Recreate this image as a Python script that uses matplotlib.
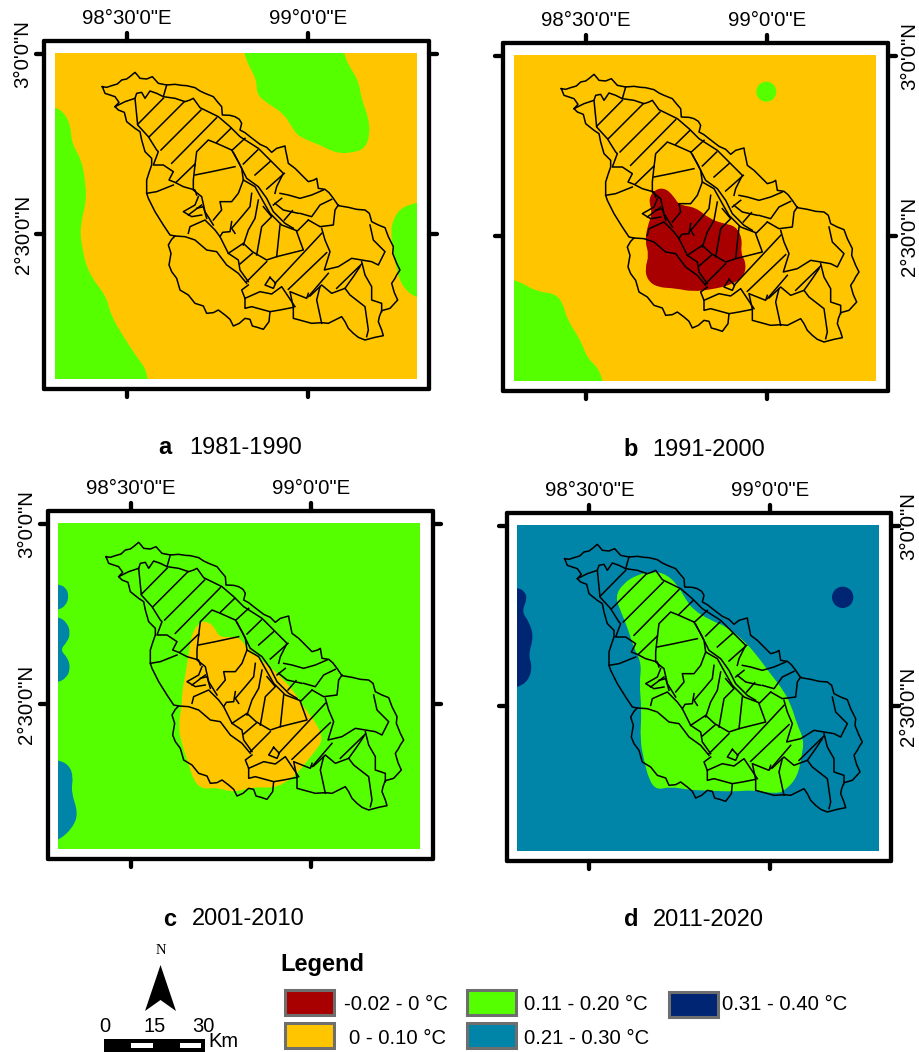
import matplotlib
matplotlib.use("Agg")
import matplotlib.pyplot as plt
from matplotlib.markers import MarkerStyle, TICKLEFT, TICKRIGHT, TICKUP, TICKDOWN
from matplotlib.patches import PathPatch, Polygon, Circle, Rectangle
from matplotlib.path import Path

plt.rcParams["font.family"] = ["Liberation Sans", "DejaVu Sans"]

ORANGE = "#FFC600"
GREEN = "#55FF00"
TEAL = "#0084A8"
NAVY = "#002673"
RED = "#A80000"

# all map shapes are in a local map grid
basin_outer = [(307,260),(320,262),(335,257),(352,252),(365,240),(380,237),(392,228),(405,217),(412,225),(420,235),(440,237),
    (457,230),(466,240),(475,250),(500,255),(525,253),(545,256),(560,257),(585,263),(600,273),(615,280),(640,290),(652,305),
    (665,320),(667,345),(690,346),(705,350),(718,358),(725,370),(720,390),(735,398),(750,410),(780,433),(800,442),(815,457),
    (830,445),(855,438),(857,452),(860,465),(865,490),(885,505),(905,525),(925,545),(942,540),(950,535),(955,565),(975,568),
    (987,578),(1000,595),(1015,617),(1045,622),(1070,628),(1095,630),(1108,640),(1115,665),(1135,675),(1155,683),(1165,710),
    (1180,740),(1178,760),(1190,790),(1200,810),(1190,825),(1185,835),(1175,850),(1183,878),(1193,900),(1170,925),(1145,932),
    (1138,950),(1135,965),(1145,990),(1150,1007),(1125,1012),(1095,1020),(1075,1012),(1060,1000),(1045,985),(1035,965),(1025,950),
    (1005,960),(985,970),(965,968),(935,970),(905,962),(880,955),(880,922),(840,930),(810,935),(807,965),(790,988),(772,982),
    (757,978),(750,958),(735,955),(718,970),(700,978),(690,958),(675,945),(655,930),(640,938),(620,940),(610,918),(585,910),
    (565,885),(540,870),(530,835),(515,815),(507,795),(513,760),(505,735),(515,718),(525,708),(510,705),(490,675),(465,635),
    (445,595),(440,580),(440,540),(448,515),(455,495),(455,475),(435,455),(425,420),(420,395),(405,385),(380,365),(373,337),
    (355,330),(345,320),(357,307),(345,290),(315,280),(307,260)]

subbasin_lines = [
    [(345,320),(375,305),(405,295),(410,280),(425,277),(435,295),(450,273),(470,280),(490,290),(500,255)],
    [(490,290),(525,295),(555,305),(570,300),(580,295),(600,323),(655,350),(690,380),(720,410),(775,445),(815,485),(850,520),(830,560),(825,580)],
    [(405,295),(413,375),(445,410),(470,450),(475,455),(460,495),(490,495),(520,515),(507,540),(525,547),(550,560),(585,570),(590,585)],
    [(440,580),(470,575),(520,555)],
    [(585,495),(590,455),(625,420),(650,430),(695,450)],
    [(695,450),(715,485),(740,535),(775,560),(800,595),(820,635),(855,670),(880,685)],
    [(700,457),(725,505),(730,540),(765,560),(790,605),(810,640),(845,675),(890,692)],
    [(585,525),(635,515),(705,500)],
    [(585,495),(580,540),(580,570),(605,590),(615,635),(640,675)],
    [(730,540),(715,580),(695,605),(660,605),(665,630),(640,660)],
    [(755,580),(750,620),(725,650),(695,685),(705,700)],
    [(775,600),(765,655),(745,690),(730,735)],
    [(790,620),(815,650),(785,680),(770,765)],
    [(840,675),(830,770)],
    [(595,590),(585,615),(550,635),(575,650),(605,645)],
    [(590,625),(610,620),(620,655)],
    [(525,708),(555,710),(585,720),(620,750),(650,755),(680,795),(715,820),(740,850)],
    [(565,700),(570,680),(615,660),(645,690),(660,710),(685,760),(715,780),(720,810),(745,845)],
    [(660,710),(668,697),(690,695),(695,665)],
    [(685,760),(730,730),(757,755),(800,780),(830,770),(910,750),(890,695)],
    [(925,660),(960,680),(1000,675),(1005,630),(1015,615)],
    [(900,640),(935,650),(960,615),(995,598)],
    [(840,580),(865,585),(900,595),(935,585),(970,570)],
    [(825,610),(850,630),(895,640)],
    [(965,685),(975,720),(990,755),(973,810),(1015,800),(1055,775),(1085,780),(1115,785),(1135,795),(1155,755),(1120,720),(1110,675)],
    [(1085,785),(1095,825),(1115,860),(1115,900),(1145,910),(1145,935)],
    [(1080,800),(1060,830),(1035,865),(1050,885),(1095,920),(1105,990),(1100,1010)],
    [(930,888),(965,855),(995,880),(1035,865)],
    [(960,860),(950,900),(965,970)],
    [(880,922),(870,875),(920,895),(925,880)],
    [(745,855),(725,870),(735,895),(735,925),(755,920),(810,935)],
    [(735,895),(780,875),(815,882),(845,860),(885,920)],
    [(810,832),(795,855),(820,865),(827,850),(810,832)],
]

hatch_lines = [
    [(413,373),(490,295)],[(448,410),(553,305)],[(483,450),(603,330)],[(515,490),(650,353)],
    [(528,547),(585,492)],[(650,427),(693,385)],[(697,450),(735,415)],[(730,492),(773,450)],
    [(765,525),(810,485)],[(800,567),(853,520)],[(820,615),(845,595)],[(853,660),(877,632)],
    [(565,645),(605,615)],[(893,692),(925,660)],[(720,792),(757,760)],[(740,845),(800,785)],
    [(825,850),(965,700)],[(865,868),(980,758)],[(925,890),(985,820)],[(1010,865),(1085,792)],
]

# climate zones for each panel, ends run past the map edge and get clipped
a_green = [
    [(725,130),(733,160),(745,195),(770,240),(770,285),(810,315),(850,340),(875,380),(895,410),(960,435),(1010,460),(1060,458),
     (1095,445),(1110,405),(1105,350),(1085,300),(1075,240),(1045,195),(1032,160),(1028,130)],
    [(120,315),(164,322),(190,335),(212,375),(215,430),(245,480),(255,540),(260,600),(240,680),(245,740),(265,820),(320,890),
     (330,940),(370,1010),(410,1070),(440,1110),(447,1175),(450,1300),(40,1300),(40,315)],
    [(1290,600),(1250,608),(1205,622),(1180,655),(1172,700),(1182,770),(1195,830),(1215,870),(1250,893),(1290,905)],
]
b_green = [[(125,825),(164,840),(190,850),(235,875),(285,880),(310,905),(325,960),(365,1020),(385,1075),(420,1105),(440,1175),
            (445,1300),(40,1300),(40,825)]]
b_red = [[(590,567),(620,565),(645,590),(660,615),(710,622),(750,655),(790,670),(830,678),(850,715),(845,760),(862,790),
          (855,830),(815,855),(760,868),(700,875),(650,865),(595,862),(565,840),(558,805),(570,765),(558,725),(565,680),
          (580,640),(568,595)]]
c_orange = [[(600,455),(625,455),(645,475),(655,497),(675,502),(715,500),(735,525),(770,560),(810,590),(840,620),(880,660),
             (920,725),(950,760),(970,810),(940,850),(900,900),(870,930),(820,955),(760,950),(700,968),(650,952),(610,958),
             (582,935),(565,880),(545,820),(535,770),(545,710),(547,660),(555,620),(565,560),(575,490)]]
c_teal = [
    [(140,340),(175,343),(198,352),(207,380),(197,407),(175,420),(140,423)],
    [(140,438),(175,440),(202,458),(211,490),(202,515),(180,540),(205,565),(211,600),(197,625),(175,637),(140,640)],
    [(140,868),(175,870),(207,885),(220,920),(213,965),(235,1030),(217,1075),(175,1112),(140,1115)],
]
d_green = [[(465,380),(490,340),(530,315),(570,306),(610,308),(650,340),(675,385),(700,420),(750,450),(800,470),(850,510),
            (890,555),(930,610),(970,660),(995,710),(1010,760),(1032,810),(1025,860),(1012,920),(980,958),(950,972),(880,960),
            (820,965),(750,962),(690,960),(630,950),(590,960),(567,930),(552,870),(540,810),(545,720),(538,640),(545,580),
            (520,530),(505,480),(485,430)]]
d_navy = [[(135,350),(171,353),(192,362),(202,385),(185,425),(207,455),(221,500),(205,555),(217,590),(205,632),(171,654),(135,657)]]

lon_labels = ["98°30'0\"E", "99°0'0\"E"]
lat_labels = ["3°0'0\"N", "2°30'0\"N"]
legend_labels = ["-0.02 - 0 °C", "0 - 0.10 °C", "0.11 - 0.20 °C", "0.21 - 0.30 °C", "0.31 - 0.40 °C"]
legend_colors = [RED, ORANGE, GREEN, TEAL, NAVY]
scale_labels = ["0", "15", "30"]

W, H = 919, 1052
fig = plt.figure(figsize=(W / 100, H / 100), dpi=100)


def smooth_path(pts):
    # closed quadratic curve with the read points as control points
    mids = [((pts[i][0] + pts[(i + 1) % len(pts)][0]) / 2, (pts[i][1] + pts[(i + 1) % len(pts)][1]) / 2) for i in range(len(pts))]
    verts = [mids[-1]]
    codes = [Path.MOVETO]
    for i in range(len(pts)):
        verts += [pts[i], mids[i]]
        codes += [Path.CURVE3, Path.CURVE3]
    return Path(verts, codes)


def panel(crop_x, crop_y, dx, dy, bg, zones, circles, lat_right, lat_pad):
    # frame edges in grid units, grid is 3 units to the pixel
    x0, x1, y0, y1 = 133 + dx, 1287 + dx, 122 + dy, 1168 + dy
    ax = fig.add_axes([(crop_x + x0 / 3) / W, 1 - (crop_y + y1 / 3) / H, (x1 - x0) / 3 / W, (y1 - y0) / 3 / H])
    ax.set_xlim(x0, x1)
    ax.set_ylim(y1, y0)
    clip = Rectangle((164 + dx, 160 + dy), 1086, 977, fc=bg, ec="none")
    ax.add_patch(clip)
    for pts, color in zones:
        p = ax.add_patch(PathPatch(smooth_path(pts), fc=color, ec="none"))
        p.set_clip_path(clip)
    for cx, cy, r, color in circles:
        ax.add_patch(Circle((cx, cy), r, fc=color, ec="none"))

    def draw(pts):
        ax.plot([p[0] + dx for p in pts], [p[1] + dy for p in pts], color="black", lw=1.1, solid_joinstyle="round")

    draw(basin_outer)
    for line in subbasin_lines:
        draw(line)
    for line in hatch_lines:
        draw(line)

    ax.set_xticks([381 + dx, 923 + dx], lon_labels)
    ax.set_yticks([161 + dy, 703 + dy], lat_labels, rotation=90, va="center")
    ax.tick_params(axis="both", length=5.5, width=3.1, labelsize=14.7, color="black")
    ax.tick_params(axis="x", top=True, bottom=True, labeltop=True, labelbottom=False, pad=3.5)
    ax.tick_params(axis="y", left=True, right=True, labelleft=not lat_right, labelright=lat_right, pad=lat_pad)
    for t in ax.xaxis.get_major_ticks():
        t.tick1line.set_marker(MarkerStyle(TICKDOWN, capstyle="round"))
        t.tick2line.set_marker(MarkerStyle(TICKUP, capstyle="round"))
    for t in ax.yaxis.get_major_ticks():
        t.tick1line.set_marker(MarkerStyle(TICKLEFT, capstyle="round"))
        t.tick2line.set_marker(MarkerStyle(TICKRIGHT, capstyle="round"))
    for s in ax.spines.values():
        s.set_linewidth(3.1)
        s.set_capstyle("round")
    return ax


panel(0, 0, 0, 0, ORANGE, [(p, GREEN) for p in a_green], [], False, 3)
panel(459, 0, 0, 6, ORANGE, [(p, GREEN) for p in b_green] + [(p, RED) for p in b_red], [(922, 275, 30, GREEN)], True, 3)
panel(0, 470, 11, 0, GREEN, [(p, ORANGE) for p in c_orange] + [(p, TEAL) for p in c_teal], [], False, 3)
panel(460, 470, 7, 6, TEAL, [(p, GREEN) for p in d_green] + [(p, NAVY) for p in d_navy], [(1148, 382, 32, NAVY)], True, 0)

# overlay in picture pixels for captions, legend and scale bar
ov = fig.add_axes([0, 0, 1, 1])
ov.set_xlim(0, W)
ov.set_ylim(H, 0)
ov.axis("off")
ov.patch.set_alpha(0)

captions = [("a", "1981-1990", 158, 189, 448), ("b", "1991-2000", 623, 652, 450),
            ("c", "2001-2010", 163, 192, 919), ("d", "2011-2020", 624, 653, 920)]
for letter, years, lx, tx, ty in captions:
    ov.text(lx, ty, letter, fontsize=17, fontweight="bold", ha="left", va="center")
    ov.text(tx, ty, years, fontsize=17, ha="left", va="center")

ov.text(280, 965, "Legend", fontsize=17, fontweight="bold", ha="left", va="center")
boxes = [(285, 990), (285, 1023), (467, 990), (467, 1023), (669, 992)]
text_x = [344, 349, 524, 524, 722]
text_y = [1005, 1039, 1005, 1039, 1005]
for (bx, by), c, lab, tx, ty in zip(boxes, legend_colors, legend_labels, text_x, text_y):
    ov.add_patch(Rectangle((bx, by), 49, 25, fc=c, ec="#6E6E6E", lw=2.2))
    ov.text(tx, ty, lab, fontsize=14.6, ha="left", va="center")

# north arrow
ov.add_patch(Polygon([(160.5, 965), (176, 1011), (160.5, 1000), (145, 1011)], closed=True, fc="black", ec="none"))
ov.text(160.5, 951, "N", fontsize=10.5, family="Liberation Serif", ha="center", va="center")

# scale bar
ov.add_patch(Rectangle((104, 1039), 101, 13, fc="black", ec="none"))
ov.add_patch(Rectangle((131, 1043), 22, 5, fc="white", ec="none"))
ov.add_patch(Rectangle((180, 1043), 21, 5, fc="white", ec="none"))
for lab, x in zip(scale_labels, [105, 155, 203]):
    ov.text(x, 1027, lab, fontsize=14.5, ha="center", va="center")
ov.text(208, 1041.5, "Km", fontsize=14.5, ha="left", va="center")

fig.savefig("out.png", dpi=100)
